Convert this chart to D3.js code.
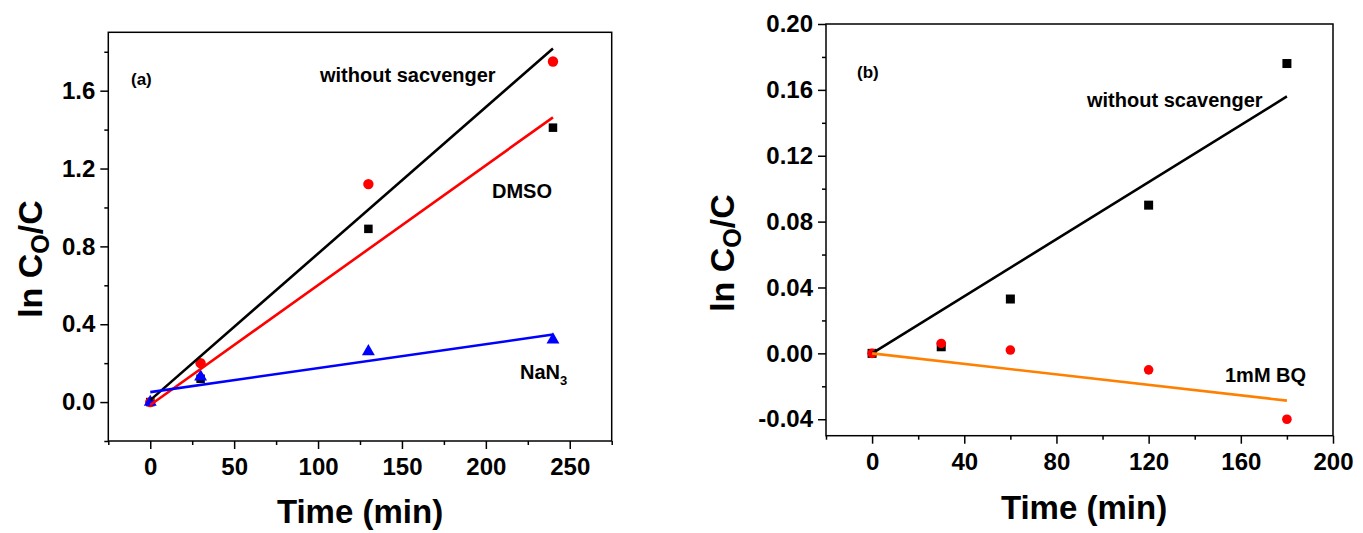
<!DOCTYPE html>
<html>
<head>
<meta charset="utf-8">
<script src="https://cdn.jsdelivr.net/npm/d3@7"></script>
<style>
    body { margin: 0; background: #fff; }
    svg { display: block; font-family: Arial, "Liberation Sans", sans-serif; font-weight: bold; }
</style>
</head>
<body>
<svg width="1363" height="533"></svg>
<script>
// panel (a)
let timeA = [0, 30, 130, 240]
let noScavA = [0, 0.12, 0.89, 1.41]
let dmsoA = [0, 0.2, 1.12, 1.75]
let nan3A = [0, 0.13, 0.26, 0.32]
let fitTimeA = [0, 240]
let fitNoScavA = [0.01, 1.817]
let fitDmsoA = [-0.015, 1.463]
let fitNan3A = [0.051, 0.347]

// panel (b)
let timeB = [0, 30, 60, 120, 180]
let noScavB = [0, 0.004, 0.033, 0.09, 0.176]
let bqB = [0, 0.006, 0.002, -0.01, -0.04]
let fitTimeB = [0, 180]
let fitNoScavB = [0, 0.156]
let fitBqB = [0, -0.0287]

// ticks
let xTicksA = [0, 50, 100, 150, 200, 250]
let xMinorA = [-25, 25, 75, 125, 175, 225, 275]
let yTicksA = [0, 0.4, 0.8, 1.2, 1.6]
let yMinorA = [-0.2, 0.2, 0.6, 1.0, 1.4, 1.8]
let xTicksB = [0, 40, 80, 120, 160, 200]
let xMinorB = [-20, 20, 60, 100, 140, 180]
let yTicksB = [-0.04, 0, 0.04, 0.08, 0.12, 0.16, 0.2]
let yMinorB = [-0.02, 0.02, 0.06, 0.1, 0.14, 0.18]

let svg = d3.select('svg')

let a = drawFrame({
    left: 108.3, right: 611.7, top: 32.3, bottom: 441,
    xDomain: [-25, 275], yDomain: [-0.2, 1.9],
    xTicks: xTicksA, xMinor: xMinorA, yTicks: yTicksA, yMinor: yMinorA,
    yFormat: d => d.toFixed(1),
    xTitle: [360, 523], yTitle: [42, 259]
})
drawPoints(a, timeA, noScavA, 'square', '#000', 8.5)
drawPoints(a, timeA, dmsoA, 'circle', '#ff0000', 5.2)
drawPoints(a, timeA, nan3A, 'triangle', '#0000ff', 72)
drawFit(a, fitTimeA, fitNoScavA, '#000')
drawFit(a, fitTimeA, fitDmsoA, '#ff0000')
drawFit(a, fitTimeA, fitNan3A, '#0000ff')

label('(a)', 131, 85, 17)
label('without sacvenger', 320, 82, 20)
label('DMSO', 492, 198, 20)
let nt = label('NaN', 520, 379, 20)
nt.append('tspan').attr('font-size', 13).attr('dy', 6).text('3')

let b = drawFrame({
    left: 826, right: 1333, top: 24, bottom: 435.7,
    xDomain: [-20, 200], yDomain: [-0.05, 0.2],
    xTicks: xTicksB, xMinor: xMinorB, yTicks: yTicksB, yMinor: yMinorB,
    yFormat: d => d.toFixed(2),
    xTitle: [1084, 519], yTitle: [734, 253]
})
drawPoints(b, timeB, noScavB, 'square', '#000', 9)
drawPoints(b, timeB, bqB, 'circle', '#ff0000', 4.8)
drawFit(b, fitTimeB, fitNoScavB, '#000')
drawFit(b, fitTimeB, fitBqB, '#ff8000')

label('(b)', 857, 78, 17)
label('without scavenger', 1087, 107, 20)
label('1mM BQ', 1225, 382, 20)

function drawFrame(o) {
    let x = d3.scaleLinear().domain(o.xDomain).range([o.left, o.right])
    let y = d3.scaleLinear().domain(o.yDomain).range([o.bottom, o.top])
    let g = svg.append('g')

    let ax = (axis, tr) => {
        let s = g.append('g').attr('transform', tr).call(axis)
        s.select('.domain').remove()
        s.selectAll('line').attr('stroke', '#000').attr('stroke-width', 1.5)
        s.selectAll('text').attr('font-size', 24).attr('fill', '#000')
            .attr('font-family', 'Arial, "Liberation Sans", sans-serif')
        return s
    }
    ax(d3.axisBottom(x).tickValues(o.xTicks).tickSize(8).tickPadding(9).tickFormat(d3.format('d')),
        'translate(0,' + o.bottom + ')')
    ax(d3.axisBottom(x).tickValues(o.xMinor).tickSize(4).tickFormat(''),
        'translate(0,' + o.bottom + ')')
    ax(d3.axisLeft(y).tickValues(o.yTicks).tickSize(8).tickPadding(5).tickFormat(o.yFormat),
        'translate(' + o.left + ',0)')
    ax(d3.axisLeft(y).tickValues(o.yMinor).tickSize(4).tickFormat(''),
        'translate(' + o.left + ',0)')

    g.append('rect')
        .attr('x', o.left).attr('y', o.top)
        .attr('width', o.right - o.left).attr('height', o.bottom - o.top)
        .attr('fill', 'none').attr('stroke', '#000').attr('stroke-width', 1.5)

    g.append('text')
        .attr('x', o.xTitle[0]).attr('y', o.xTitle[1])
        .attr('text-anchor', 'middle').attr('font-size', 33)
        .text('Time (min)')

    let yt = g.append('text')
        .attr('transform', 'translate(' + o.yTitle[0] + ',' + o.yTitle[1] + ') rotate(-90)')
        .attr('text-anchor', 'middle').attr('font-size', 34)
    yt.append('tspan').text('ln C')
    yt.append('tspan').attr('font-size', 25).attr('dy', 7).text('O')
    yt.append('tspan').attr('dy', -7).text('/C')

    let plot = g.append('g')
    return {x: x, y: y, g: plot}
}

function drawPoints(p, xs, ys, shape, c, size) {
    let d = xs.map((t, i) => ({t: t, v: ys[i]}))
    let sel = p.g.selectAll('.m-' + shape + c.slice(1))
        .data(d)
        .enter()
    if (shape == 'square') {
        sel.append('rect')
            .attr('x', e => p.x(e.t) - size / 2)
            .attr('y', e => p.y(e.v) - size / 2)
            .attr('width', size).attr('height', size)
            .attr('fill', c)
    } else if (shape == 'circle') {
        sel.append('circle')
            .attr('cx', e => p.x(e.t))
            .attr('cy', e => p.y(e.v))
            .attr('r', size)
            .attr('fill', c)
    } else {
        sel.append('path')
            .attr('d', d3.symbol(d3.symbolTriangle, size))
            .attr('transform', e => 'translate(' + p.x(e.t) + ',' + p.y(e.v) + ')')
            .attr('fill', c)
    }
}

function drawFit(p, xs, ys, c) {
    let line = d3.line().x(e => p.x(e[0])).y(e => p.y(e[1]))
    p.g.append('path')
        .attr('d', line(xs.map((t, i) => [t, ys[i]])))
        .attr('fill', 'none')
        .attr('stroke', c)
        .attr('stroke-width', 2.6)
}

function label(s, x, y, size) {
    return svg.append('text')
        .attr('x', x).attr('y', y)
        .attr('font-size', size)
        .text(s)
}
</script>
</body>
</html>
